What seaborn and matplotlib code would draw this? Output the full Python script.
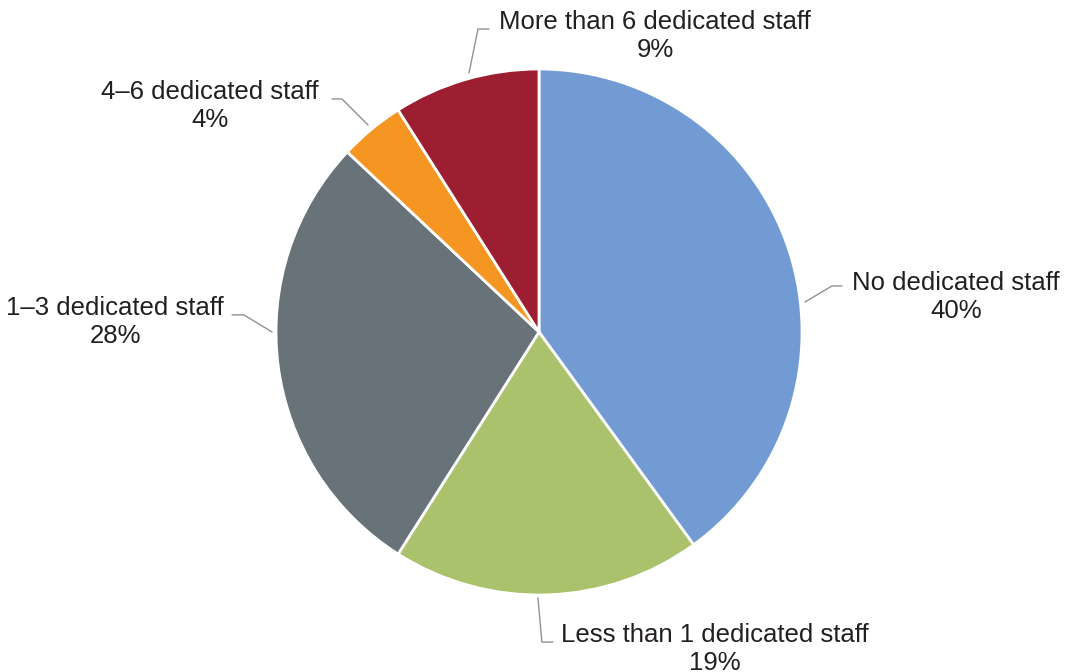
import matplotlib
matplotlib.use("Agg")
import matplotlib.pyplot as plt
import seaborn as sns

# Share of organisations by number of dedicated staff
categories = [
    "No dedicated staff",
    "Less than 1 dedicated staff",
    "1\u20133 dedicated staff",
    "4\u20136 dedicated staff",
    "More than 6 dedicated staff",
]
shares = [40, 19, 28, 4, 9]

palette = sns.color_palette(["#729BD3", "#ABC26C", "#687379", "#F59622", "#9C1E30"])

sns.set_theme(style="white")
plt.rcParams["font.family"] = ["Liberation Sans", "DejaVu Sans"]

W, H = 1065, 672
fig = plt.figure(figsize=(W / 100, H / 100), dpi=100)
cx, cy, r = 539, 340, 263
ax = fig.add_axes([(cx - r) / W, (cy - r) / H, 2 * r / W, 2 * r / H])

wedges, _ = ax.pie(
    shares,
    colors=palette,
    startangle=90,
    counterclock=False,
    radius=1,
    wedgeprops=dict(edgecolor="white", linewidth=2.0),
)
ax.set_xlim(-1, 1)
ax.set_ylim(-1, 1)
ax.set_aspect("equal")
ax.axis("off")

# label placement (text centre) and leader line path, in pie radius units
label_pos = [
    (1.586, 0.133),
    (0.669, -1.205),
    (-1.612, 0.038),
    (-1.251, 0.859),
    (0.441, 1.125),
]
leaders = [
    [(1.011, 0.114), (1.114, 0.175), (1.152, 0.175)],
    [(-0.004, -1.011), (0.011, -1.179), (0.053, -1.179)],
    [(-1.015, 0.0), (-1.122, 0.065), (-1.167, 0.065)],
    [(-0.650, 0.787), (-0.749, 0.886), (-0.787, 0.886)],
    [(-0.266, 0.985), (-0.232, 1.152), (-0.190, 1.152)],
]

for name, val, (tx, ty), path in zip(categories, shares, label_pos, leaders):
    xs, ys = zip(*path)
    ax.plot(xs, ys, color="#8C9399", linewidth=1.0, clip_on=False)
    ax.text(
        tx, ty, f"{name}\n{val}%",
        ha="center", va="center", multialignment="center",
        fontsize=18.5, color="#231F20", linespacing=1.2, clip_on=False,
    )

fig.savefig("out.png", dpi=100, facecolor="white")
